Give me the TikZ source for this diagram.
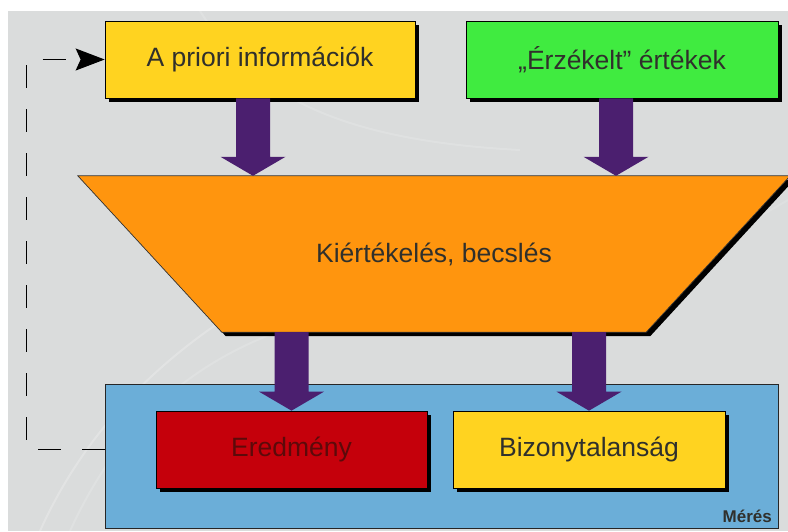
\documentclass[tikz,border=0pt]{standalone}
\usepackage{fontspec}
\setmainfont{Liberation Sans}
\usetikzlibrary{calc,shadows,arrows.meta}

\definecolor{bggray}{HTML}{DADCDC}
\definecolor{boxyellow}{HTML}{FFD320}
\definecolor{boxgreen}{HTML}{40EB40}
\definecolor{boxorange}{HTML}{FF950E}
\definecolor{boxred}{HTML}{C5000B}
\definecolor{boxblue}{HTML}{6BAED8}
\definecolor{arrowpurple}{HTML}{4B1F6F}
\definecolor{inkdark}{HTML}{30302C}
\definecolor{inkred}{HTML}{5C0A0A}

% block arrow pointing down from #1 to the level of #2
\newcommand\blockarrow[2]{%
  \fill[arrowpurple] let \p1=(#1), \p2=(#2) in
    (\x1-17pt,\y1) -- (\x1+17pt,\y1) -- (\x1+17pt,\y2+19pt)
    -- (\x1+32.5pt,\y2+19pt) -- (\x1,\y2) -- (\x1-32.5pt,\y2+19pt)
    -- (\x1-17pt,\y2+19pt) -- cycle;}

\begin{document}
\begin{tikzpicture}[x=1pt,y=-1pt,
  shadowed/.style={drop shadow={shadow xshift=4pt,shadow yshift=-4pt,
      fill=black,opacity=1}},
  boxtext/.style={font=\fontsize{26.5}{30}\selectfont,text=inkdark},
  infobox/.style={draw=black,line width=0.7pt,shadowed,inner sep=0pt,
      minimum height=77pt,boxtext},
  frame/.style={draw=black!85,line width=0.7pt,fill=boxblue},
  feedback/.style={draw=black,line width=1.1pt,dash pattern=on 23pt off 21pt,
      -{Stealth[length=29pt,width=22pt,inset=5pt]}},
  streak/.style={white,opacity=0.22,line width=2pt}]

\useasboundingbox (0,0) rectangle (788,531);
\clip (0,0) rectangle (788,531);

% backdrop
\fill[bggray] (8,11) rectangle (788,531);
\draw[streak] (40,531) .. controls (90,420) and (180,330) .. (330,260);
\draw[streak,opacity=0.15] (70,531) .. controls (130,400) and (230,320) .. (420,300);
\draw[streak,opacity=0.15] (200,11) .. controls (250,90) and (330,140) .. (520,150);
\draw[streak,opacity=0.12] (560,300) .. controls (640,280) and (720,240) .. (788,200);

% inputs
\node[infobox,fill=boxyellow,minimum width=310pt] (apriori) at (260,59.5)
  {A priori információk};
\node[infobox,fill=boxgreen,minimum width=312pt] (erz) at (622,59.5)
  {„Érzékelt” értékek};

% evaluation stage (trapezoid)
\node[inner sep=0pt,minimum width=712pt,minimum height=156pt] (kiert) at (434,254) {};
\path[draw=black!80,line width=0.7pt,fill=boxorange,shadowed]
  (kiert.north west) -- (kiert.north east)
  -- ($(kiert.south east)+(-144,0)$) -- ($(kiert.south west)+(144,0)$) -- cycle;
\node[boxtext] (kierttext) at (kiert.center) {Kiértékelés, becslés};

% measurement frame and its outputs
\node[frame,inner sep=0pt,minimum width=673pt,minimum height=144pt] (meres) at (441.5,456) {};
\node[infobox,fill=boxred,text=inkred,minimum width=271pt] (eredmeny) at (291.5,449.5)
  {Eredmény};
\node[infobox,fill=boxyellow,minimum width=272pt] (biz) at (589,449.5)
  {Bizonytalanság};
\node[anchor=base east,inner sep=0pt,text=inkdark,
  font=\bfseries\fontsize{17}{19}\selectfont] (mereslabel) at (772,522) {Mérés};

% flow arrows
\coordinate (a1) at ($(apriori.south)+(-7,0)$);
\coordinate (a2) at ($(erz.south)+(-6,0)$);
\blockarrow{a1}{a1 |- kiert.north}
\blockarrow{a2}{a2 |- kiert.north}
\coordinate (a3) at (eredmeny.north |- kiert.south);
\coordinate (a4) at (biz.north |- kiert.south);
\blockarrow{a3}{eredmeny.north}
\blockarrow{a4}{biz.north}

% feedback loop back to the a priori information
\draw[feedback] (eredmeny.center -| meres.west) -- ++(-78,0) |- (apriori.west);

\end{tikzpicture}
\end{document}
